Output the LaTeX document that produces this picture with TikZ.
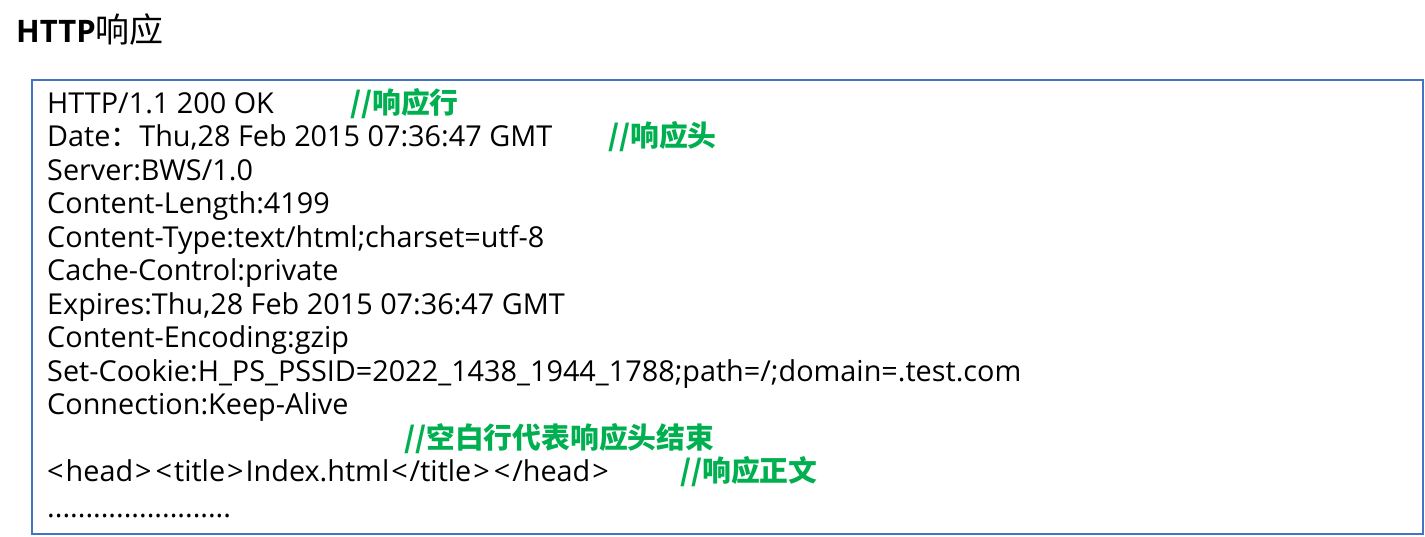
\documentclass[tikz,border=0pt]{standalone}
\usepackage{fontspec}
\setmainfont{Open Sans}
\newfontfamily\cjk{Noto Sans CJK SC}
\definecolor{boxblue}{HTML}{4472C4}
\definecolor{cmtgreen}{HTML}{00B050}
\newcommand{\lt}{\kern2pt<\kern2pt}
\newcommand{\gt}{\kern2pt>\kern2pt}
\begin{document}
\begin{tikzpicture}[x=1pt,y=-1pt,
  line/.style={anchor=base west,inner sep=0pt,font=\fontsize{28.8}{34}\selectfont},
  cmt/.style={anchor=base west,inner sep=0pt,text=cmtgreen,font=\fontsize{28.8}{34}\selectfont\cjk\bfseries}]
\useasboundingbox (0,0) rectangle (1425,536);
\node[anchor=base west,inner sep=0pt,font=\fontsize{31}{36}\selectfont] (title) at (16,42) {\textbf{HTTP}{\fontsize{34}{38}\selectfont\cjk 响应}};
\draw[boxblue,line width=2pt] (32,80) rectangle (1423,534);
\node[line] (l1) at (47,113) {HTTP/1.1 200 OK};
\node[cmt] (c1) at (350,113) {//响应行};
\node[line] (l2) at (47,146.5) {Date{\cjk ：}Thu,28 Feb 2015 07:36:47 GMT};
\node[cmt] (c2) at (608,146.5) {//响应头};
\node[line] (l3) at (47,180) {Server:BWS/1.0};
\node[line] (l4) at (47,213.5) {Content-Length:4199};
\node[line] (l5) at (47,247) {Content-Type:text/html;charset=utf-8};
\node[line] (l6) at (47,280.5) {Cache-Control:private};
\node[line] (l7) at (47,314) {Expires:Thu,28 Feb 2015 07:36:47 GMT};
\node[line] (l8) at (47,347.5) {Content-Encoding:gzip};
\node[line] (l9) at (47,381) {Set-Cookie:H\_PS\_PSSID=2022\_1438\_1944\_1788;path=/;domain=.test.com};
\node[line] (l10) at (47,414.5) {Connection:Keep-Alive};
\node[cmt] (c3) at (404,448) {//空白行代表响应头结束};
\node[line] (l12) at (47,481.5) {\kern-2pt\lt head\gt\lt title\gt Index.html\lt/title\gt\lt/head\gt};
\node[cmt] (c4) at (680,481.5) {//响应正文};
\node[line] (l13) at (47,517) {........................};
\end{tikzpicture}
\end{document}
